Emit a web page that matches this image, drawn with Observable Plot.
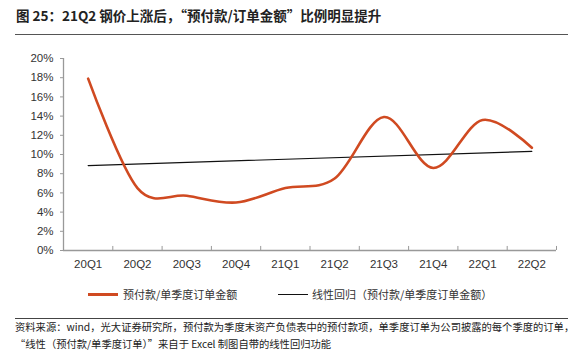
<!DOCTYPE html>
<html><head><meta charset="utf-8">
<script src="https://cdn.jsdelivr.net/npm/d3@7"></script>
<script src="https://cdn.jsdelivr.net/npm/@observablehq/plot@0.6"></script>
<style>
html,body{margin:0;padding:0;background:#fff;}
body{width:582px;height:360px;position:relative;overflow:hidden;font-family:"Noto Sans CJK SC","Noto Sans",sans-serif;}
#title{position:absolute;left:16px;top:5px;font-size:13.5px;font-weight:bold;color:#222;white-space:nowrap;}
#tline{position:absolute;left:15px;width:553px;top:34px;height:0;border-top:1.2px solid #555;}
#chart{position:absolute;left:0;top:40px;}
#legend{position:absolute;top:286px;left:0;width:582px;height:18px;font-size:11px;color:#333;}
.li{position:absolute;top:0;white-space:nowrap;}
.sw{position:absolute;top:8px;width:30px;}
#fline{position:absolute;left:15px;width:553px;top:318px;height:0;border-top:1px solid #444;}
#foot{position:absolute;left:15px;top:319px;font-size:10.3px;color:#222;line-height:16.5px;white-space:nowrap;}
</style></head>
<body>
<div id="title">图 25：21Q2 钢价上涨后，“预付款/订单金额”比例明显提升</div>
<div id="tline"></div>
<div id="chart"></div>
<div id="legend">
  <div class="sw" style="left:88px;border-top:3px solid #d04a21;top:7px"></div>
  <div class="li" style="left:123px;">预付款/单季度订单金额</div>
  <div class="sw" style="left:278px;border-top:1.2px solid #111;"></div>
  <div class="li" style="left:312px;">线性回归（预付款/单季度订单金额）</div>
</div>
<div id="fline"></div>
<div id="foot">资料来源：wind，光大证券研究所，预付款为季度末资产负债表中的预付款项，单季度订单为公司披露的每个季度的订单，<br>“线性（预付款/单季度订单）”来自于 Excel 制图自带的线性回归功能</div>
<script>
const quarters = ["20Q1","20Q2","20Q3","20Q4","21Q1","21Q2","21Q3","21Q4","22Q1","22Q2"];
const ratio = [17.9, 6.5, 5.7, 5.0, 6.5, 7.5, 13.9, 8.6, 13.6, 10.7];
const yTicks = [0,2,4,6,8,10,12,14,16,18,20];

const data = quarters.map((q,i)=>({i, q, v: ratio[i]}));
const bounds = quarters.map((q,i)=>i+0.5);
const centers = quarters.map((q,i)=>i);

const chart = Plot.plot({
  width: 582, height: 240,
  marginTop: 18, marginBottom: 30, marginLeft: 63, marginRight: 26,
  style: {fontFamily: "'Liberation Sans', Arial, sans-serif", fontSize: "11.5px", color: "#333", background: "#fff"},
  x: {type: "linear", domain: [-0.5, quarters.length - 0.5]},
  y: {domain: [0, 20]},
  marks: [
    Plot.ruleX([-0.5], {stroke: "#999", strokeWidth: 1.3}),
    Plot.ruleY([0], {stroke: "#999", strokeWidth: 1.3}),
    Plot.ruleX(bounds, {x: d=>d, y1: 0, y2: 0.42, stroke: "#999", strokeWidth: 1}),
    Plot.axisY({ticks: yTicks, tickSize: 3, tickPadding: 7, stroke: "#999", tickFormat: d => d + "%", label: null, fill: "#333"}),
    Plot.axisX({ticks: centers, tickSize: 0, tickPadding: 9, tickFormat: i => quarters[i], label: null, fill: "#333"}),
    Plot.linearRegressionY(data, {x: "i", y: "v", ci: 0, stroke: "#111", strokeWidth: 1.2}),
    Plot.line(data, {x: "i", y: "v", curve: "cardinal", stroke: "#d04a21", strokeWidth: 2.6})
  ]
});
document.getElementById("chart").appendChild(chart);
</script>
</body></html>
